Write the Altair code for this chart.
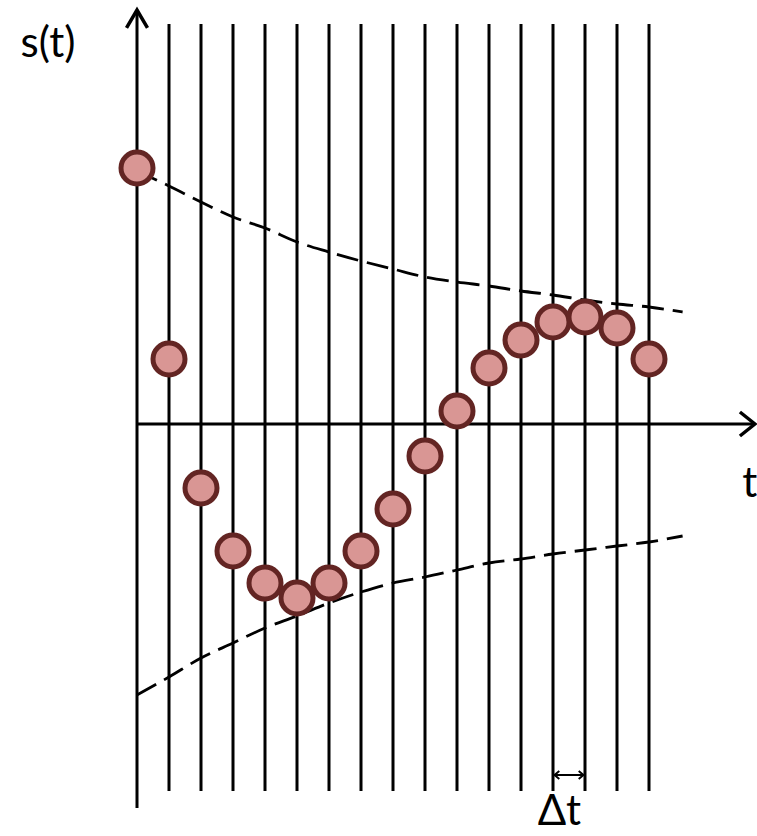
import altair as alt
import pandas as pd

# Sampled signal s(t) at t = 0, Δt, 2Δt, ...
sample_t = list(range(17))
sample_s = [2.56, 0.65, -0.64, -1.27, -1.59, -1.74, -1.59, -1.27, -0.85,
            -0.32, 0.13, 0.56, 0.84, 1.02, 1.07, 0.96, 0.65]

# Decaying envelope (upper and lower)
env_t = [0, 1, 2, 3, 4, 5, 6, 7, 8, 9, 10, 11, 12, 13, 14, 15, 16, 17.05]
env_upper = [2.53, 2.38, 2.22, 2.07, 1.96, 1.82, 1.72, 1.63, 1.55, 1.47,
             1.42, 1.38, 1.33, 1.29, 1.24, 1.20, 1.17, 1.12]
env_lower = [-2.71, -2.53, -2.34, -2.19, -2.04, -1.92, -1.79, -1.68, -1.59,
             -1.53, -1.46, -1.39, -1.35, -1.30, -1.26, -1.22, -1.18, -1.12]

# Sampling instants drawn as vertical lines
grid_t = list(range(1, 17))
grid_top, grid_bottom = 4.00, -3.67

# Axis extents
y_axis_bottom, y_axis_top = -3.84, 4.14
x_axis_end = 19.31

# Δt marker
dt_start, dt_end, dt_level = 13, 14, -3.51

# Text labels
labels = ["s(t)", "t", "Δt"]
label_t = [-2.78, 19.15, 13.2]
label_s = [3.80, -0.60, -3.88]

X = alt.Scale(domain=[-137 / 32, 620 / 32], nice=False, zero=False)
Y = alt.Scale(domain=[-4.12, 4.24], nice=False, zero=False)
INK = "#000000"

def xe(field="t"):
    return alt.X(f"{field}:Q", scale=X, axis=None)

def ye(field="s"):
    return alt.Y(f"{field}:Q", scale=Y, axis=None)

grid_df = pd.DataFrame({"t": grid_t, "s": grid_top, "s2": grid_bottom})
grid = alt.Chart(grid_df).mark_rule(color=INK, strokeWidth=3).encode(
    x=xe(), y=ye(), y2="s2:Q")

yaxis_df = pd.DataFrame({"t": [0], "s": [y_axis_top], "s2": [y_axis_bottom]})
yaxis = alt.Chart(yaxis_df).mark_rule(color=INK, strokeWidth=3).encode(
    x=xe(), y=ye(), y2="s2:Q")

xaxis_df = pd.DataFrame({"t": [0], "t2": [x_axis_end], "s": [0]})
xaxis = alt.Chart(xaxis_df).mark_rule(color=INK, strokeWidth=3).encode(
    x=xe(), x2="t2:Q", y=ye())

up_head = alt.Chart(pd.DataFrame({"t": [0], "s": [y_axis_top]})).mark_point(
    shape="M-1,1.7L0,0L1,1.7", filled=False, stroke=INK, strokeWidth=3.5,
    size=441, opacity=1).encode(x=xe(), y=ye())
right_head = alt.Chart(pd.DataFrame({"t": [x_axis_end], "s": [0]})).mark_point(
    shape="M-1.25,-1L0,0L-1.25,1", filled=False, stroke=INK, strokeWidth=3.5,
    size=576, opacity=1).encode(x=xe(), y=ye())

dt_df = pd.DataFrame({"t": [dt_start], "t2": [dt_end], "s": [dt_level]})
dt_line = alt.Chart(dt_df).mark_rule(color=INK, strokeWidth=2).encode(
    x=xe(), x2="t2:Q", y=ye())
dt_left = alt.Chart(pd.DataFrame({"t": [dt_start], "s": [dt_level]})).mark_point(
    shape="M1.2,-1L0,0L1.2,1", filled=False, stroke=INK, strokeWidth=2,
    size=64, opacity=1).encode(x=xe(), y=ye(), xOffset=alt.value(1.5))
dt_right = alt.Chart(pd.DataFrame({"t": [dt_end], "s": [dt_level]})).mark_point(
    shape="M-1.2,-1L0,0L-1.2,1", filled=False, stroke=INK, strokeWidth=2,
    size=64, opacity=1).encode(x=xe(), y=ye(), xOffset=alt.value(-1.5))

env_df = pd.concat([
    pd.DataFrame({"t": env_t, "s": env_upper, "side": "upper"}),
    pd.DataFrame({"t": env_t, "s": env_lower, "side": "lower"}),
])
envelope = alt.Chart(env_df).mark_line(
    color=INK, strokeWidth=2.8, strokeDash=[22, 9], interpolate="monotone"
).encode(x=xe(), y=ye(), detail="side:N")

samples = alt.Chart(pd.DataFrame({"t": sample_t, "s": sample_s})).mark_point(
    shape="circle", filled=True, fill="#D99694", stroke="#632523",
    strokeWidth=5, size=1024, opacity=1).encode(x=xe(), y=ye())

text = alt.Chart(pd.DataFrame({"t": label_t, "s": label_s, "label": labels})).mark_text(
    font="Lato", fontSize=42, color=INK, align="center", baseline="middle"
).encode(x=xe(), y=ye(), text="label:N")

chart = alt.layer(
    grid, yaxis, xaxis, up_head, right_head, dt_line, dt_left, dt_right,
    envelope, samples, text
).properties(
    width=757, height=836, padding=0, autosize=alt.AutoSizeParams(type="none")
).configure_view(stroke=None)

chart.save("out.html", embed_options={"renderer": "svg", "actions": False})
